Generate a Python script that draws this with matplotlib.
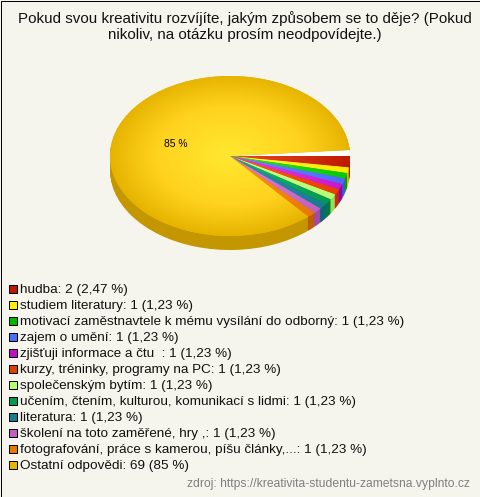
import numpy as np
import matplotlib
matplotlib.use('Agg')
import matplotlib.pyplot as plt
from matplotlib.colors import LinearSegmentedColormap
import matplotlib.patches as patches

plt.rcParams['font.family'] = ['Liberation Sans', 'DejaVu Sans']

W, H = 480, 497
BG = '#f5f5ed'

title = 'Pokud svou kreativitu rozvíjíte, jakým způsobem se to děje? (Pokud\nnikoliv, na otázku prosím neodpovídejte.)'
source = 'zdroj: https://kreativita-studentu-zametsna.vyplnto.cz'

labels = ['hudba: 2 (2,47 %)',
          'studiem literatury: 1 (1,23 %)',
          'motivací zaměstnavtele k mému vysílání do odborný: 1 (1,23 %)',
          'zajem o umění: 1 (1,23 %)',
          'zjišťuji informace a čtu  : 1 (1,23 %)',
          'kurzy, tréninky, programy na PC: 1 (1,23 %)',
          'společenským bytím: 1 (1,23 %)',
          'učením, čtením, kulturou, komunikací s lidmi: 1 (1,23 %)',
          'literatura: 1 (1,23 %)',
          'školení na toto zaměřené, hry ,: 1 (1,23 %)',
          'fotografování, práce s kamerou, píšu články,...: 1 (1,23 %)',
          'Ostatní odpovědi: 69 (85 %)']
values = [2, 1, 1, 1, 1, 1, 1, 1, 1, 1, 1, 69]

# barva legendy, stred, okraj, bok
legend_colors = ['#c01800', '#ffee00', '#00b800', '#4c6cff', '#c010c0', '#e04000',
                 '#b8ff70', '#009a50', '#1a7a90', '#c060c0', '#e87800', '#e6b400']
center_colors = ['#ee4a28', '#fff830', '#30e030', '#6c88ff', '#f040f0', '#ff5c20',
                 '#d0ff90', '#20b870', '#3090a8', '#e080e0', '#ff9820', '#ffe830']
edge_colors = ['#bd1a00', '#fcea00', '#08c808', '#4c6cff', '#c818c8', '#e84000',
               '#b4fc70', '#009a50', '#1a7a90', '#c060c0', '#e87800', '#e6b400']
side_colors = ['#a81800', '#d8c400', '#00a000', '#3858d8', '#a000a0', '#c03000',
               '#98dc58', '#007c40', '#106478', '#a04ca0', '#c05c00', '#c49600']

gap = 1.05        # bily klin nad cervenou vysecou
main_extra = 6.6  # v originale zabira hlavni vysec o neco vetsi uhel
sizes = values[:-1] + [values[-1] + main_extra - gap, gap]

fig = plt.figure(figsize=(W / 100, H / 100), dpi=100, facecolor=BG)

# ramecek
fig.add_artist(patches.Rectangle((0.5 / W, 0.5 / H), (W - 1) / W, (H - 1) / H,
                                 transform=fig.transFigure,
                                 fill=False, edgecolor='black', linewidth=0.72))

fig.text(245 / W, 1 - 26.5 / H, title, ha='center', va='center', fontsize=10.9,
         linespacing=1.1, color='#111111')

# kolac - osa v pixelech, jednotkovy kruh se roztahne na elipsu
cx, cy, rx, ry, depth = 230, 156, 120, 80, 14
ax = fig.add_axes([(cx - rx) / W, 1 - (cy + ry + depth) / H, 2 * rx / W, (2 * ry + depth) / H])

for d in range(depth, 0, -1):
    wedges, _ = ax.pie(sizes, colors=side_colors + ['none'], startangle=0, counterclock=False,
                       center=(0, -d / ry), radius=1, frame=False,
                       wedgeprops={'linewidth': 0})

top, _ = ax.pie(sizes, colors=legend_colors + ['white'], startangle=0, counterclock=False,
                center=(0, 0), radius=1, frame=False, wedgeprops={'linewidth': 0})

# radialni prechod na horni plose
xx, yy = np.meshgrid(np.linspace(-1, 1, 480), np.linspace(-1, 1, 320))
rr = np.clip(np.hypot(xx, yy), 0, 1)
for i, w in enumerate(top[:-1]):
    if i == len(top) - 2:
        cmap = LinearSegmentedColormap.from_list('m', [(0, center_colors[i]), (0.62, '#ffd21e'),
                                                       (1, edge_colors[i])])
    else:
        cmap = LinearSegmentedColormap.from_list('s', [center_colors[i], edge_colors[i]])
    im = ax.imshow(rr, cmap=cmap, vmin=0, vmax=1, extent=(-1, 1, -1, 1), origin='lower',
                   aspect='auto', zorder=2)
    im.set_clip_path(w)

ax.set_aspect('auto')
ax.set_xlim(-1, 1)
ax.set_ylim(-1 - depth / ry, 1)
ax.axis('off')

fig.text(176 / W, 1 - 144 / H, '85 %', ha='center', va='center', fontsize=7.4, color='black')

# legenda
for i, lab in enumerate(labels):
    y = 288.5 + i * 16
    fig.add_artist(patches.Rectangle((9 / W, 1 - (y + 4) / H), 8 / W, 8 / H,
                                     transform=fig.transFigure, facecolor=legend_colors[i],
                                     edgecolor='black', linewidth=0.72))
    fig.text(20 / W, 1 - (y + 1.8) / H, lab, ha='left', va='center', fontsize=9.7, color='#111111')

fig.text(470 / W, 1 - 484 / H, source, ha='right', va='center', fontsize=8.7, color='#808080')

fig.savefig('out.png', dpi=100, facecolor=BG)
